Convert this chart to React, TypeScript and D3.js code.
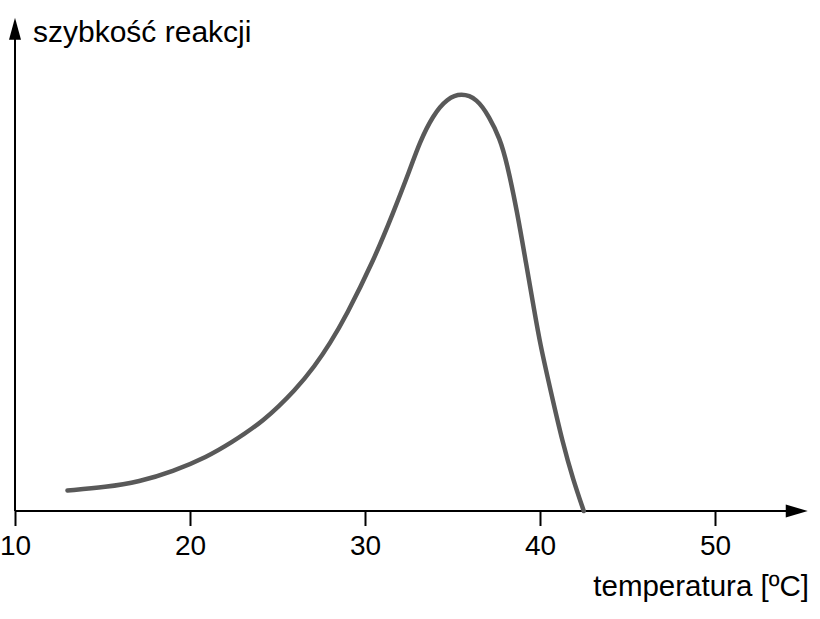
import React, { useEffect, useRef } from "react";
import * as d3 from "d3";

// temperature [°C]
const temperature = [
  13.0, 15.2, 17.1, 19.0, 21.0, 22.3, 24.2, 26.1, 27.1, 28.0, 28.9, 30.5,
  31.6, 32.6, 33.1, 33.9, 34.7, 35.5, 36.4, 37.1, 37.7, 38.1, 38.7, 39.2,
  39.7, 40.0, 40.6, 41.3, 41.9, 42.5,
];
// reaction rate, arbitrary units (peak = 100)
const rate = [
  4.9, 5.7, 7.0, 9.4, 13.0, 16.2, 21.4, 29.3, 34.5, 40.1, 46.5, 60.0, 71.2,
  82.0, 88.0, 94.8, 98.7, 100, 98.7, 94.3, 89.2, 83.5, 71.5, 59.3, 47.3, 40.1,
  28.9, 16.2, 7.4, 0,
];
const xTicks = [10, 20, 30, 40, 50];

const xLabel = "temperatura [ºC]";
const yLabel = "szybkość reakcji";

interface IPoint {
  t: number;
  v: number;
}

const App: React.FC = () => {
  const ref = useRef<SVGSVGElement | null>(null);

  const width = 820,
    height = 619;
  const font = "'Liberation Sans', Arial, Helvetica, sans-serif";

  useEffect(() => {
    const svg = d3.select(ref.current);
    svg.selectAll("*").remove();

    const x = d3.scaleLinear().domain([10, 50]).range([15, 715]);
    const y = d3.scaleLinear().domain([0, 100]).range([511, 93]);

    const xEnd = 55.3; // arrow tip
    const yEnd = 118;
    const data: IPoint[] = temperature.map((t, i) => ({ t, v: rate[i] }));

    // x axis ticks + labels
    const xAxis = d3
      .axisBottom(x)
      .tickValues(xTicks)
      .tickSize(15)
      .tickPadding(9)
      .tickFormat(d3.format("d"));

    const gx = svg
      .append("g")
      .attr("transform", `translate(0,${y(0)})`)
      .call(xAxis);
    gx.select(".domain").remove();
    gx.selectAll(".tick line").attr("stroke", "#000").attr("stroke-width", 2);
    gx.selectAll(".tick text")
      .attr("fill", "#000")
      .attr("font-family", font)
      .attr("font-size", 28);

    // axis lines with arrowheads
    const axes = svg.append("g");
    axes
      .append("line")
      .attr("x1", x(10))
      .attr("x2", x(xEnd) - 18)
      .attr("y1", y(0))
      .attr("y2", y(0))
      .attr("stroke", "#000")
      .attr("stroke-width", 2);
    axes
      .append("path")
      .attr(
        "d",
        `M${x(xEnd)},${y(0)} L${x(xEnd) - 22},${y(0) - 6.5} L${x(xEnd) - 22},${y(0) + 6.5} Z`
      )
      .attr("fill", "#000");

    axes
      .append("line")
      .attr("x1", x(10))
      .attr("x2", x(10))
      .attr("y1", y(0))
      .attr("y2", y(yEnd) + 18)
      .attr("stroke", "#000")
      .attr("stroke-width", 2);
    axes
      .append("path")
      .attr(
        "d",
        `M${x(10)},${y(yEnd)} L${x(10) - 6},${y(yEnd) + 22} L${x(10) + 6},${y(yEnd) + 22} Z`
      )
      .attr("fill", "#000");

    // axis titles
    svg
      .append("text")
      .attr("x", x(10) + 18)
      .attr("y", 42)
      .attr("font-family", font)
      .attr("font-size", 30)
      .attr("fill", "#000")
      .text(yLabel);

    svg
      .append("text")
      .attr("x", 809)
      .attr("y", 596)
      .attr("text-anchor", "end")
      .attr("font-family", font)
      .attr("font-size", 29.5)
      .attr("fill", "#000")
      .text(xLabel);

    // the curve (basis smooths out small reading errors)
    const line = d3
      .line<IPoint>()
      .x((d) => x(d.t))
      .y((d) => y(d.v))
      .curve(d3.curveBasis);

    svg
      .append("path")
      .datum(data)
      .attr("fill", "none")
      .attr("stroke", "#595959")
      .attr("stroke-width", 4.5)
      .attr("stroke-linejoin", "round")
      .attr("stroke-linecap", "round")
      .attr("d", line);
  }, []);

  return (
    <svg
      ref={ref}
      width={width}
      height={height}
      style={{ position: "absolute", left: 0, top: 0, background: "#fff" }}
    ></svg>
  );
};

export default App;
